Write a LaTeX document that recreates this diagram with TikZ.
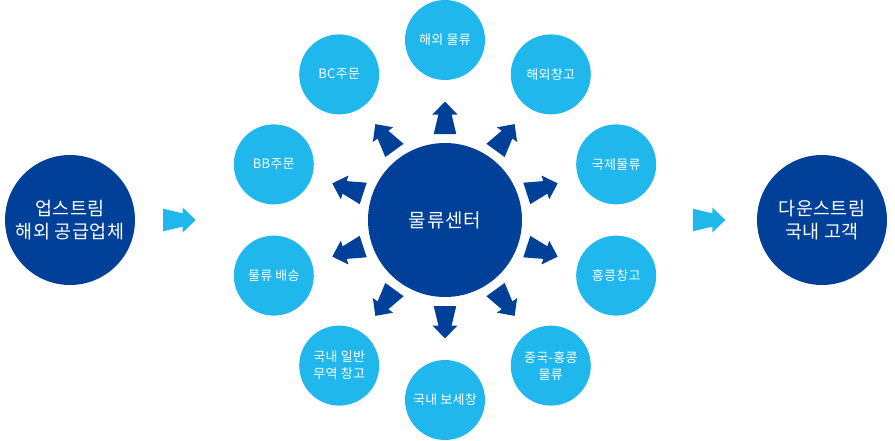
\documentclass[tikz,border=0pt]{standalone}
\usepackage{fontspec}
\setmainfont{Noto Sans CJK KR}
\usepackage{tikz}
\usetikzlibrary{positioning}
\definecolor{navy}{RGB}{0,64,152}
\definecolor{sky}{RGB}{32,184,236}
% tapered block arrow: colour, start point, angle
\newcommand{\taper}[3]{\fill[#1,shift={#2},rotate=#3]
  (0,11.3) -- (19.5,6.6) -- (19.5,12.5) -- (32.5,0) -- (19.5,-12.5) -- (19.5,-6.6) -- (0,-11.3) -- cycle;}

\begin{document}
\begin{tikzpicture}[
    x=1pt,y=1pt,
    hub/.style={circle,fill=navy,text=white,minimum size=154pt,inner sep=0pt,
                font=\fontsize{19}{22}\selectfont\addfontfeature{LetterSpace=4}},
    site/.style={circle,fill=sky,text=white,minimum size=80pt,inner sep=0pt,
                 align=center,font=\fontsize{13}{17}\selectfont\addfontfeature{LetterSpace=2}},
    party/.style={circle,fill=navy,text=white,minimum size=130pt,inner sep=0pt,
                  align=center,font=\fontsize{18.5}{23}\selectfont\addfontfeature{LetterSpace=2}}
]
\useasboundingbox (-445,-220) rectangle (450,220);

\node[hub] (hub) at (0,0) {물류센터};

\foreach \a/\t in {90/해외 물류,54/해외창고,18/국제물류,-18/홍콩창고,
                   -54/{중국-홍콩\\물류},-90/국내 보세창,-126/{국내 일반\\무역 창고},
                   -162/물류 배송,162/BB주문,126/BC주문}{
  \node[site] (site\a) at (\a:180) {\t};
  \taper{navy}{([shift={(\a:86)}]hub.center)}{\a}
}

\node[party] (up)   at (-375,0) {업스트림\\해외 공급업체};
\node[party] (down) at (377,0)  {다운스트림\\국내 고객};

\taper{sky}{([xshift=28]up.east)}{0}
\taper{sky}{([xshift=-64]down.west)}{0}
\end{tikzpicture}
\end{document}
